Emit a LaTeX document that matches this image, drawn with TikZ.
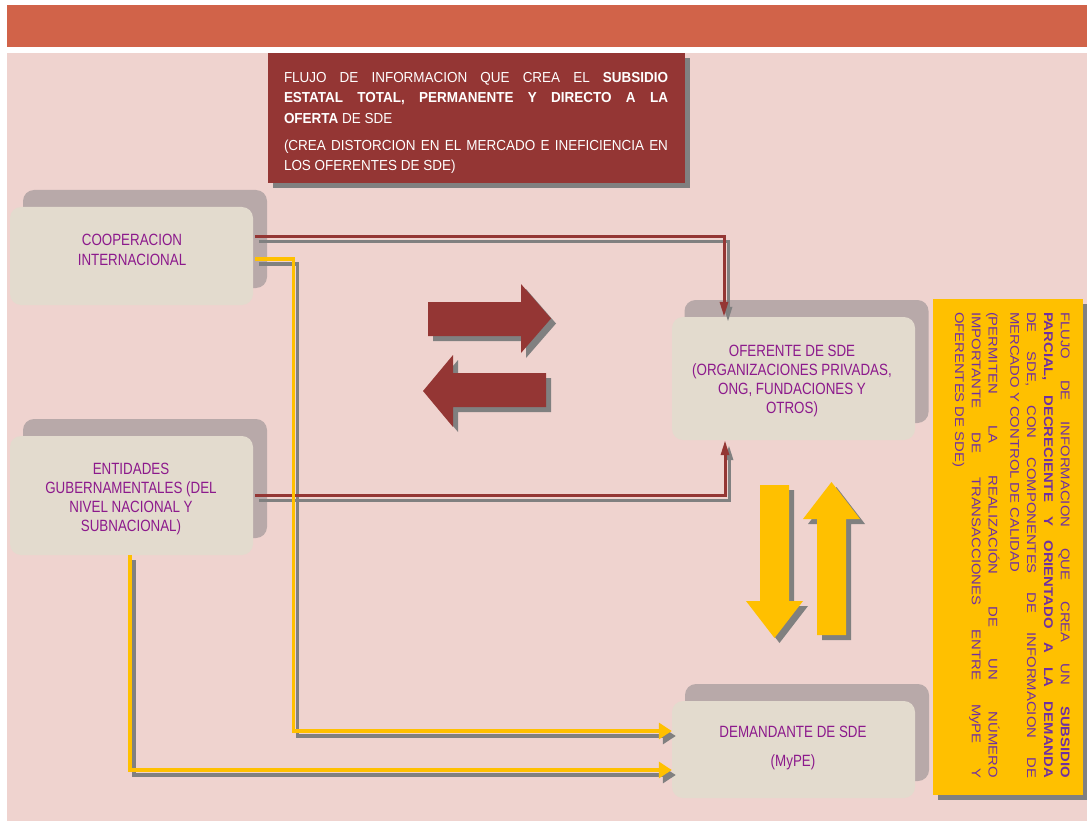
\documentclass[tikz,border=0pt]{standalone}
\usepackage{fontspec}
\setmainfont{Liberation Sans}
\newfontfamily\cardfont[FakeStretch=0.82]{Liberation Sans}
\newfontfamily\headfont[FakeStretch=0.93]{Liberation Sans}
\newfontfamily\sidefont[FakeStretch=1.18]{Liberation Sans}
\usetikzlibrary{arrows.meta}

\definecolor{barorange}{RGB}{209,99,73}
\definecolor{panelpink}{RGB}{239,211,207}
\definecolor{wine}{RGB}{148,54,52}
\definecolor{shade}{RGB}{128,128,128}
\definecolor{amber}{RGB}{255,192,0}
\definecolor{cardfill}{RGB}{227,219,206}
\definecolor{cardbackfill}{RGB}{184,169,169}
\definecolor{plum}{RGB}{140,25,140}
\definecolor{sidepurple}{RGB}{112,48,160}

\tikzset{
  card/.style={fill=cardfill, rounded corners=11pt, minimum width=243pt, inner sep=0pt},
  cardback/.style={fill=cardbackfill, rounded corners=11pt, minimum width=244pt, inner sep=0pt},
  cardtext/.style={text=plum, align=center, inner sep=0pt,
    font=\cardfont\fontsize{16.3}{19.3}\selectfont},
  wineline/.style={draw=wine, line width=3pt, -{Triangle[length=15pt,width=8pt]}},
  amberline/.style={draw=amber, line width=3.5pt, -{Triangle[length=13pt,width=16pt]}},
  wineshadow/.style={draw=shade, line width=3pt, -{Triangle[length=15pt,width=8pt]},
    transform canvas={shift={(4pt,-5pt)}}},
  ambershadow/.style={draw=shade, line width=3.5pt, -{Triangle[length=13pt,width=16pt]},
    transform canvas={shift={(4pt,-5pt)}}},
  dropshade/.style={fill=shade, shift={(5,5)}},
}

\begin{document}
\begin{tikzpicture}[x=1pt,y=-1pt]
  \useasboundingbox (0,0) rectangle (1087,821);
  \fill[white] (0,0) rectangle (1087,821);

  % header bar and panel
  \fill[barorange] (7,5) rectangle (1087,47);
  \fill[panelpink] (7,53) rectangle (1087,821);

  % heading box
  \node[fill=shade, minimum width=417pt, minimum height=130pt, inner sep=0pt] (headshadow) at (481.5,123) {};
  \node[fill=wine, minimum width=417pt, minimum height=130pt, inner sep=0pt] (headbox) at (476.5,118) {};
  \node[text=white, text width=384pt, align=justify, inner sep=0pt,
        font=\headfont\fontsize{14.5}{20.3}\selectfont] (headtext) at (476,123)
   {\parindent=0pt\tolerance=10000\hyphenpenalty=10000
    FLUJO DE INFORMACION QUE CREA EL \textbf{SUBSIDIO}\linebreak
    \textbf{ESTATAL TOTAL, PERMANENTE Y DIRECTO A LA}\linebreak
    \textbf{OFERTA} DE SDE\par\vspace{7pt}
    (CREA DISTORCION EN EL MERCADO E INEFICIENCIA EN\linebreak
    LOS OFERENTES DE SDE)};

  % cards
  \node[cardback, minimum height=98pt]  (coopback) at (145,239) {};
  \node[card, minimum height=98pt]      (coop) at (131.5,256) {};
  \node[cardtext] (cooptext) at (132,250) {COOPERACION\\INTERNACIONAL};

  \node[cardback, minimum height=119pt] (entback) at (145,478.5) {};
  \node[card, minimum height=119pt]     (ent) at (131.5,495.5) {};
  \node[cardtext] (enttext) at (131,499) {ENTIDADES\\GUBERNAMENTALES (DEL\\NIVEL NACIONAL Y\\SUBNACIONAL)};

  \node[cardback, minimum height=123pt] (ofeback) at (806.5,361.5) {};
  \node[card, minimum height=123pt]     (ofe) at (793.5,378.5) {};
  \node[cardtext] (ofetext) at (792,381) {OFERENTE DE SDE\\(ORGANIZACIONES PRIVADAS,\\ONG, FUNDACIONES Y\\OTROS)};

  \node[cardback, minimum height=97pt]  (demback) at (807,732.5) {};
  \node[card, minimum height=97pt]      (dem) at (793.5,749.5) {};
  \node[cardtext] (demtext) at (793,748) {DEMANDANTE DE SDE\\[9.7pt](MyPE)};

  % connector shadows
  \draw[wineshadow] ([xshift=2pt,yshift=19pt]coop.east) -| ([xshift=-69.5pt]ofe.north);
  \draw[wineshadow] ([xshift=2pt]ent.east) -| ([xshift=-68.5pt]ofe.south);
  \draw[ambershadow] ([xshift=2pt,yshift=-3pt]coop.east) -- ++(38.5,0) |- ([yshift=18.5pt]dem.west);
  \draw[ambershadow] ([xshift=-1.5pt]ent.south) |- ([yshift=-20.5pt]dem.west);

  % connectors
  \draw[wineline] ([xshift=2pt,yshift=19pt]coop.east) -| ([xshift=-69.5pt]ofe.north);
  \draw[wineline] ([xshift=2pt]ent.east) -| ([xshift=-68.5pt]ofe.south);
  \draw[amberline] ([xshift=2pt,yshift=-3pt]coop.east) -- ++(38.5,0) |- ([yshift=18.5pt]dem.west);
  \draw[amberline] ([xshift=-1.5pt]ent.south) |- ([yshift=-20.5pt]dem.west);

  % exchange arrows between sources and providers
  \fill[dropshade] (428,302) -- (521,302) -- (521,284) -- (551,318.5) -- (521,353) -- (521,336) -- (428,336) -- cycle;
  \fill[wine]      (428,302) -- (521,302) -- (521,284) -- (551,318.5) -- (521,353) -- (521,336) -- (428,336) -- cycle;
  \fill[dropshade] (546,373) -- (453,373) -- (453,355) -- (423,391) -- (453,427) -- (453,407) -- (546,407) -- cycle;
  \fill[wine]      (546,373) -- (453,373) -- (453,355) -- (423,391) -- (453,427) -- (453,407) -- (546,407) -- cycle;

  % exchange arrows between providers and demand
  \fill[dropshade] (760,485) -- (789,485) -- (789,601) -- (803,601) -- (774.5,638) -- (746,601) -- (760,601) -- cycle;
  \fill[amber]     (760,485) -- (789,485) -- (789,601) -- (803,601) -- (774.5,638) -- (746,601) -- (760,601) -- cycle;
  \fill[dropshade] (817,635) -- (846,635) -- (846,519) -- (860,519) -- (831.5,482) -- (803,519) -- (817,519) -- cycle;
  \fill[amber]     (817,635) -- (846,635) -- (846,519) -- (860,519) -- (831.5,482) -- (803,519) -- (817,519) -- cycle;

  % side note
  \node[fill=shade, minimum width=150pt, minimum height=496pt, inner sep=0pt] (sideshadow) at (1013,552) {};
  \node[fill=amber, minimum width=150pt, minimum height=496pt, inner sep=0pt] (sidebox) at (1008,547) {};
  \node[rotate=-90, text=sidepurple, text width=466pt, align=justify, inner sep=0pt,
        font=\sidefont\fontsize{12.6}{16.8}\selectfont] (sidetext) at (1011,545)
   {\parindent=0pt\tolerance=10000\hyphenpenalty=10000
    FLUJO DE INFORMACION QUE CREA UN \textbf{SUBSIDIO}\linebreak
    \textbf{PARCIAL, DECRECIENTE Y ORIENTADO A LA DEMANDA}\linebreak
    DE SDE, CON COMPONENTES DE INFORMACION DE\linebreak
    MERCADO Y CONTROL DE CALIDAD\par\vspace{5pt}
    (PERMITEN LA REALIZACIÓN DE UN NÚMERO\linebreak
    IMPORTANTE DE TRANSACCIONES ENTRE MyPE Y\linebreak
    OFERENTES DE SDE)};
\end{tikzpicture}
\end{document}
